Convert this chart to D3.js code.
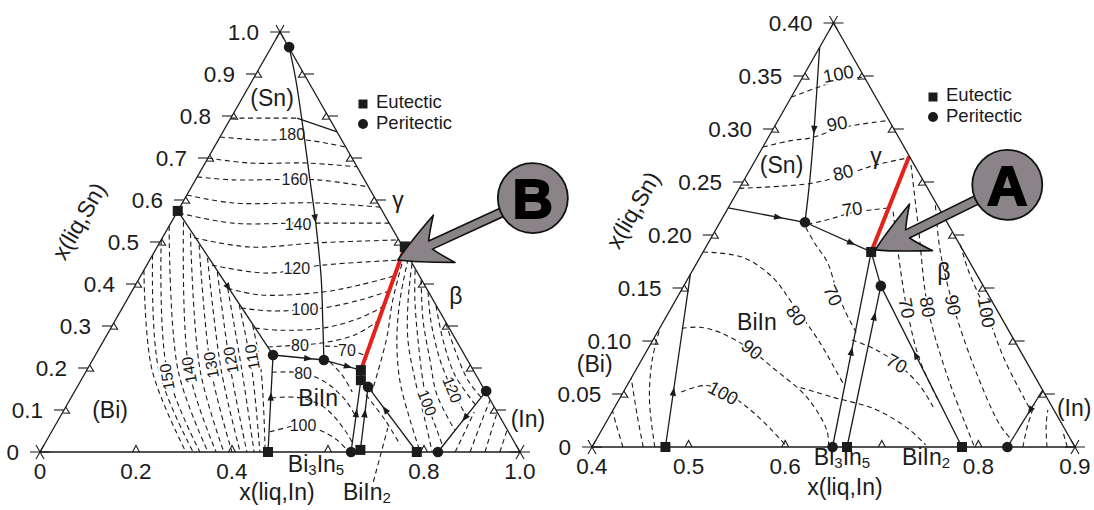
<!DOCTYPE html>
<html>
<head>
<meta charset="utf-8">
<script src="https://cdn.jsdelivr.net/npm/d3@7"></script>
<style>
  html, body { margin: 0; padding: 0; background: #fff; }
  svg { display: block; font-family: "Liberation Sans", Arial, Helvetica, sans-serif; }
</style>
</head>
<body>
<svg id="chart" width="1094" height="510"></svg>
<script>
// Bi-In-Sn liquidus projections. Every composition is [x(liq,In), x(liq,Sn)].

// ---------- full diagram ----------
const leftSnTicks  = [0, 0.1, 0.2, 0.3, 0.4, 0.5, 0.6, 0.7, 0.8, 0.9, 1];
const leftSnLabels = ["0", "0.1", "0.2", "0.3", "0.4", "0.5", "0.6", "0.7", "0.8", "0.9", "1.0"];
const leftInTicks  = [0.2, 0.4, 0.6, 0.8];
const leftInLabelAt = [0, 0.2, 0.4, 0.8, 1];
const leftInLabels  = ["0", "0.2", "0.4", "0.8", "1.0"];
const leftEdgeTicks = [0.1, 0.2, 0.3, 0.4, 0.5, 0.6, 0.7, 0.8, 0.9];

const leftEutectic   = [[0, 0.574], [0.516, 0.488], [0.571, 0.195], [0.583, 0.171], [0.475, 0], [0.665, 0.005], [0.785, 0]];
const leftPeritectic = [[0.037, 0.964], [0.370, 0.231], [0.482, 0.219], [0.606, 0.155], [0.648, 0], [0.829, 0], [0.857, 0.145]];

// monovariant (three-phase) lines
const leftValleys = [
  [[0.037, 0.964], [0.090, 0.886], [0.165, 0.767], [0.231, 0.660], [0.302, 0.545], [0.381, 0.410], [0.432, 0.314], [0.482, 0.219]],
  [[0, 0.574], [0.370, 0.231]],
  [[0.370, 0.231], [0.482, 0.219]],
  [[0.482, 0.219], [0.571, 0.195]],
  [[0.475, 0], [0.370, 0.231]],
  [[0.583, 0.171], [0.648, 0]],
  [[0.606, 0.155], [0.665, 0.005]],
  [[0.606, 0.155], [0.785, 0]],
  [[0.829, 0], [0.857, 0.145]],
  [[0.571, 0.195], [0.583, 0.171]],
  [[0.138, 0.795], [0.238, 0.762]],
  [[0.516, 0.488], [0.571, 0.195]]
];
// [line index, position along line, +1 toward end / -1 toward start]
const leftArrowSpecs = [[0, 0.55, 1], [1, 0.53, 1], [2, 0.69, 1], [3, 0.65, 1], [4, 0.57, 1], [5, 0.46, -1], [6, 0.42, -1], [7, 0.35, -1], [8, 0.56, -1]];
const leftRed = [[0.516, 0.488], [0.571, 0.195]];

// isotherms, (Sn) and gamma field, 190 down to 70 C
const leftSnIso = [
  [[0, 0.795], [0.138, 0.795]],
  [[0, 0.750], [0.087, 0.743], [0.181, 0.743], [0.274, 0.726]],
  [[0, 0.700], [0.093, 0.688], [0.212, 0.688], [0.321, 0.679]],
  [[0, 0.655], [0.078, 0.648], [0.253, 0.648], [0.369, 0.631]],
  [[0, 0.612], [0.106, 0.593], [0.281, 0.593], [0.417, 0.583]],
  [[0.005, 0.569], [0.130, 0.545], [0.263, 0.545], [0.455, 0.545]],
  [[0.066, 0.510], [0.194, 0.488], [0.328, 0.498], [0.495, 0.505]],
  [[0.136, 0.445], [0.260, 0.426], [0.367, 0.445], [0.521, 0.457]],
  [[0.196, 0.390], [0.271, 0.374], [0.399, 0.381], [0.468, 0.398], [0.528, 0.419]],
  [[0.247, 0.343], [0.311, 0.336], [0.418, 0.343], [0.486, 0.362], [0.535, 0.383]],
  [[0.300, 0.295], [0.355, 0.290], [0.442, 0.295], [0.507, 0.319], [0.543, 0.348]],
  [[0.350, 0.250], [0.414, 0.255], [0.460, 0.260], [0.517, 0.279], [0.548, 0.312]],
  [[0.468, 0.252], [0.500, 0.250], [0.565, 0.229]]
];
// (Bi) field
const leftBiIso = [
  [[0, 0.433], [0.136, 0.195], [0.304, 0]],
  [[0, 0.469], [0.150, 0.195], [0.319, 0]],
  [[0, 0.505], [0.167, 0.195], [0.333, 0]],
  [[0, 0.538], [0.190, 0.195], [0.350, 0]],
  [[0.025, 0.548], [0.213, 0.195], [0.367, 0]],
  [[0.053, 0.521], [0.236, 0.195], [0.383, 0]],
  [[0.085, 0.493], [0.259, 0.195], [0.400, 0]],
  [[0.118, 0.462], [0.280, 0.195], [0.417, 0]],
  [[0.155, 0.429], [0.300, 0.195], [0.431, 0]],
  [[0.196, 0.390], [0.323, 0.195], [0.446, 0]],
  [[0.240, 0.350], [0.344, 0.195], [0.458, 0]],
  [[0.292, 0.302], [0.363, 0.195], [0.469, 0]]
];
// BiIn and BiIn2 fields
const leftBiInIso = [
  [[0.497, 0.214], [0.538, 0.183], [0.579, 0.143]],
  [[0.388, 0.190], [0.454, 0.188], [0.510, 0.167], [0.574, 0.124], [0.612, 0.088]],
  [[0.417, 0.129], [0.477, 0.129], [0.541, 0.105], [0.609, 0.052], [0.638, 0.024]],
  [[0.455, 0.048], [0.491, 0.060], [0.516, 0.064], [0.557, 0.052], [0.604, 0.029], [0.637, 0.005]],
  [[0.611, 0.136], [0.681, 0.076], [0.742, 0.017]]
];
// beta field
const leftBetaIso = [
  [[0.525, 0.467], [0.554, 0.362], [0.588, 0.267], [0.620, 0.143]],
  [[0.537, 0.460], [0.569, 0.362], [0.610, 0.267], [0.664, 0.171], [0.733, 0.076], [0.792, 0]],
  [[0.551, 0.448], [0.586, 0.362], [0.633, 0.267], [0.696, 0.171], [0.764, 0.076], [0.817, 0]],
  [[0.565, 0.433], [0.600, 0.362], [0.654, 0.267], [0.712, 0.171], [0.748, 0.117], [0.801, 0.052], [0.832, 0.014]],
  [[0.589, 0.410], [0.641, 0.314], [0.703, 0.219], [0.759, 0.136], [0.838, 0.052]],
  [[0.618, 0.381], [0.657, 0.314], [0.724, 0.219], [0.785, 0.148], [0.845, 0.086]],
  [[0.651, 0.348], [0.706, 0.267], [0.773, 0.183], [0.849, 0.114]],
  [[0.692, 0.307], [0.743, 0.243], [0.806, 0.171], [0.853, 0.131]]
];
// (In) field
const leftInIso = [
  [[0.865, 0], [0.857, 0.095]],
  [[0.896, 0], [0.883, 0.076], [0.876, 0.124]],
  [[0.927, 0], [0.905, 0.095]],
  [[0.958, 0], [0.947, 0.052]]
];
const leftIsoLabels = [
  ["180", 0.146, 0.757], ["160", 0.206, 0.650], ["140", 0.266, 0.543], ["120", 0.316, 0.438],
  ["100", 0.382, 0.340], ["80", 0.414, 0.255], ["70", 0.518, 0.243],
  ["150", 0.175, 0.179], ["140", 0.213, 0.195], ["130", 0.253, 0.207], ["120", 0.288, 0.219], ["110", 0.329, 0.226],
  ["80", 0.454, 0.188], ["100", 0.516, 0.064],
  ["100", 0.748, 0.117], ["120", 0.785, 0.148]
];
const leftIsoAngles = [0, 0, 0, 0, 0, 0, 0, -100, -100, -100, -100, -100, 0, 0, 68, 68];
const leftFieldLabels = [["(Sn)", 0.062, 0.843], ["(Bi)", 0.096, 0.100], ["BiIn", 0.515, 0.129], ["\u03B3", 0.446, 0.600], ["\u03B2", 0.681, 0.371], ["(In)", 0.977, 0.079]];
const leftPhaseAt = [["Bi", "3", "In", "5", 0.575, 20], ["BiIn", "2", "", "", 0.681, 48]];
const leftLeader = [[0.730, -0.071], [0.696, 0.057]];
const leftBadgeTarget = [0.517, 0.457];

// ---------- In-rich corner ----------
const rightSnTicks  = [0, 0.05, 0.10, 0.15, 0.20, 0.25, 0.30, 0.35, 0.40];
const rightSnLabels = ["0", "0.05", "0.10", "0.15", "0.20", "0.25", "0.30", "0.35", "0.40"];
const rightInTicks  = [0.5, 0.6, 0.7, 0.8];
const rightInLabelAt = [0.4, 0.5, 0.6, 0.8, 0.9];
const rightInLabels  = ["0.4", "0.5", "0.6", "0.8", "0.9"];
const rightEdgeTicks = [0.05, 0.10, 0.15, 0.20, 0.25, 0.30, 0.35];

const rightEutectic   = [[0.574, 0.184], [0.476, 0], [0.664, 0], [0.783, 0]];
const rightPeritectic = [[0.488, 0.212], [0.604, 0.152], [0.649, 0], [0.830, 0]];
const rightValleys = [
  [[0.400, 0.377], [0.443, 0.299], [0.468, 0.252], [0.488, 0.212]],
  [[0.400, 0.2255], [0.488, 0.212]],
  [[0.488, 0.212], [0.574, 0.184]],
  [[0.476, 0], [0.400, 0.163]],
  [[0.574, 0.184], [0.649, 0]],
  [[0.604, 0.152], [0.664, 0]],
  [[0.604, 0.152], [0.783, 0]],
  [[0.830, 0], [0.833, 0.054]],
  [[0.574, 0.184], [0.604, 0.152]],
  [[0.574, 0.184], [0.557, 0.274]]
];
const rightArrowSpecs = [[0, 0.47, 1], [1, 0.65, 1], [2, 0.7, 1], [3, 0.32, 1], [4, 0.51, -1], [5, 0.19, -1], [6, 0.43, -1], [7, 0.64, -1]];
const rightRed = [[0.574, 0.184], [0.557, 0.274]];

const rightSnIso = [
  [[0.400, 0.330], [0.421, 0.339], [0.440, 0.346], [0.463, 0.349]],
  [[0.400, 0.283], [0.425, 0.289], [0.446, 0.292], [0.469, 0.301], [0.514, 0.308]],
  [[0.400, 0.244], [0.441, 0.246], [0.473, 0.249], [0.502, 0.257], [0.527, 0.266], [0.558, 0.273]],
  [[0.492, 0.210], [0.512, 0.215], [0.531, 0.221], [0.553, 0.224], [0.566, 0.2255]]
];
const rightBiIso = [
  [[0.432, 0], [0.412, 0.021], [0.400, 0.034]],
  [[0.453, 0], [0.428, 0.030], [0.400, 0.065]],
  [[0.465, 0], [0.432, 0.044], [0.411, 0.082], [0.401, 0.110]]
];
const rightBiInIso = [
  [[0.492, 0.207], [0.512, 0.191], [0.534, 0.175], [0.556, 0.153], [0.581, 0.129], [0.606, 0.108]],
  [[0.400, 0.184], [0.444, 0.179], [0.487, 0.160], [0.522, 0.136], [0.575, 0.098], [0.610, 0.070], [0.625, 0.058]],
  [[0.423, 0.112], [0.441, 0.113], [0.465, 0.108], [0.502, 0.094], [0.540, 0.075], [0.593, 0.047], [0.633, 0.016], [0.645, 0]],
  [[0.460, 0.052], [0.481, 0.058], [0.505, 0.052], [0.542, 0.035], [0.576, 0.016], [0.602, 0]],
  [[0.606, 0.101], [0.636, 0.092], [0.666, 0.079], [0.703, 0.058], [0.733, 0.035]],
  [[0.581, 0.056], [0.620, 0.047], [0.673, 0.035], [0.719, 0.016], [0.744, 0.002]]
];
const rightBetaIso = [
  [[0.573, 0.222], [0.608, 0.176], [0.644, 0.131], [0.688, 0.082], [0.731, 0.044]],
  [[0.564, 0.266], [0.610, 0.205], [0.665, 0.132], [0.720, 0.073], [0.779, 0.016], [0.796, 0]],
  [[0.613, 0.228], [0.644, 0.186], [0.690, 0.134], [0.751, 0.073], [0.809, 0.021], [0.830, 0.007]],
  [[0.662, 0.191], [0.685, 0.167], [0.729, 0.127], [0.776, 0.082], [0.832, 0.035]]
];
const rightInIso = [
  [[0.846, 0], [0.838, 0.021], [0.833, 0.040]],
  [[0.871, 0], [0.857, 0.021], [0.850, 0.035]],
  [[0.892, 0], [0.877, 0.016]]
];
const rightIsoLabels = [
  ["100", 0.435, 0.352], ["90", 0.463, 0.305], ["80", 0.498, 0.259], ["70", 0.529, 0.2245],
  ["70", 0.560, 0.143], ["80", 0.534, 0.124], ["90", 0.508, 0.092], ["100", 0.504, 0.051], ["70", 0.666, 0.079],
  ["70", 0.644, 0.131], ["80", 0.665, 0.132], ["90", 0.690, 0.134], ["100", 0.729, 0.127]
];
const rightIsoAngles = [-10, -10, -14, -8, 65, 55, 38, 28, 30, 80, 80, 80, 80];
const rightFieldLabels = [["(Sn)", 0.430, 0.266], ["BiIn", 0.497, 0.118], ["(Bi)", 0.354, 0.078], ["\u03B3", 0.522, 0.275], ["\u03B2", 0.661, 0.165], ["(In)", 0.876, 0.037]];
const rightPhaseAt = [["Bi", "3", "In", "5", 0.6588, 18], ["BiIn", "2", "", "", 0.7458, 18]];
const rightBadgeTarget = [0.577, 0.186];

// ---------- drawing ----------
const INK = "#1b1b1b";
const RED = "#e3221b";
const BADGE = "#8a8388";
const svg = d3.select("#chart");

function makeProj(cfg) {
  const u = d3.scaleLinear().domain([cfg.inMin, cfg.inMax]).range([0, cfg.W]);
  const s = d3.scaleLinear().domain([0, cfg.snMax]).range([0, 1]);
  return p => [cfg.x0 + u(p[0]) + 0.5 * cfg.W * s(p[1]), cfg.y0 - cfg.H * s(p[1])];
}

function halo(sel) {
  return sel.attr("stroke", "#fff").attr("stroke-width", 4).attr("stroke-linejoin", "round").attr("paint-order", "stroke");
}

function drawPanel(cfg, D) {
  const P = makeProj(cfg);
  const g = svg.append("g");
  const smooth = d3.line().x(p => P(p)[0]).y(p => P(p)[1]).curve(d3.curveCatmullRom.alpha(0.5));
  const straight = d3.line().x(p => P(p)[0]).y(p => P(p)[1]);

  // dashed isotherms
  const iso = g.append("g").attr("fill", "none").attr("stroke", INK)
    .attr("stroke-width", 1.1).attr("stroke-dasharray", "5,3.6");
  D.isotherms.forEach(set => set.forEach(pts => iso.append("path").attr("d", smooth(pts))));
  if (D.leader) iso.append("path").attr("d", straight(D.leader));

  // isotherm temperature labels
  D.isoLabels.forEach((l, i) => {
    const [x, y] = P([l[1], l[2]]);
    halo(g.append("text"))
      .attr("transform", `translate(${x},${y}) rotate(${D.isoAngles[i]})`)
      .attr("text-anchor", "middle").attr("dy", "0.35em")
      .attr("font-size", cfg.isoFont).attr("fill", INK).text(l[0]);
  });

  // monovariant lines
  const mono = g.append("g").attr("fill", "none").attr("stroke", INK).attr("stroke-width", 1.3);
  D.valleys.forEach(pts => mono.append("path").attr("d", smooth(pts)));

  // direction arrows on the monovariant lines
  D.arrows.forEach(([li, t, dir]) => {
    const pts = D.valleys[li].map(P);
    const seg = [];
    let total = 0;
    for (let k = 1; k < pts.length; k++) {
      const L = Math.hypot(pts[k][0] - pts[k - 1][0], pts[k][1] - pts[k - 1][1]);
      seg.push(L); total += L;
    }
    let want = t * total, k = 0;
    while (k < seg.length - 1 && want > seg[k]) { want -= seg[k]; k++; }
    const a = pts[k], b = pts[k + 1];
    const f = want / seg[k];
    const x = a[0] + (b[0] - a[0]) * f, y = a[1] + (b[1] - a[1]) * f;
    const ang = Math.atan2(b[1] - a[1], b[0] - a[0]) * 180 / Math.PI + (dir < 0 ? 180 : 0);
    g.append("path").attr("transform", `translate(${x},${y}) rotate(${ang})`)
      .attr("d", "M4.5,0 L-4,-3.2 L-4,3.2 Z").attr("fill", INK);
  });

  // highlighted boundary
  g.append("path").attr("d", straight(D.red)).attr("fill", "none")
    .attr("stroke", RED).attr("stroke-width", 4);

  // triangle frame
  const A = P([cfg.inMin, 0]), B = P([cfg.inMax, 0]), C = P([cfg.inMin, cfg.snMax]);
  g.append("path").attr("d", `M${A}L${B}L${C}Z`).attr("fill", "none")
    .attr("stroke", INK).attr("stroke-width", 1.3);

  const tick = g.append("g").attr("fill", "none").attr("stroke", INK).attr("stroke-width", 1.1);
  const c60 = 0.5, s60 = Math.sqrt(3) / 2;
  function chevron(p, t, n) {
    tick.append("path").attr("d",
      `M${p[0] - 3.5 * t[0]},${p[1] - 3.5 * t[1]}L${p[0] + 6.5 * n[0]},${p[1] + 6.5 * n[1]}L${p[0] + 3.5 * t[0]},${p[1] + 3.5 * t[1]}`);
  }
  D.snTicks.slice(1, -1).forEach(s => {
    const p = P([cfg.inMin, s]);
    chevron(p, [c60, -s60], [s60, c60]);
    tick.append("path").attr("d", `M${p[0]},${p[1]}h-10`);
  });
  D.inTicks.forEach(v => chevron(P([v, 0]), [1, 0], [0, -1]));
  D.edgeTicks.forEach(s => {
    const p = P([cfg.inMax - (cfg.inMax - cfg.inMin) * s / cfg.snMax, s]);
    chevron(p, [-c60, -s60], [-s60, c60]);
    tick.append("path").attr("d", `M${p[0]},${p[1]}h10`);
  });
  [A, B, C].forEach(p => {
    tick.append("path").attr("d",
      `M${p[0] - 10},${p[1]}h20M${p[0] - 8 * c60},${p[1] - 8 * s60}L${p[0] + 8 * c60},${p[1] + 8 * s60}` +
      `M${p[0] + 8 * c60},${p[1] - 8 * s60}L${p[0] - 8 * c60},${p[1] + 8 * s60}`);
  });

  // tick labels
  D.snTicks.forEach((s, i) => {
    const p = P([cfg.inMin, s]);
    g.append("text").attr("x", p[0] - 21).attr("y", p[1]).attr("dy", "0.36em")
      .attr("text-anchor", "end").attr("font-size", 22.5).attr("fill", INK).text(D.snLabels[i]);
  });
  D.inLabelAt.forEach((v, i) => {
    const p = P([v, 0]);
    g.append("text").attr("x", p[0]).attr("y", p[1] + 27)
      .attr("text-anchor", "middle").attr("font-size", 22.5).attr("fill", INK).text(D.inLabels[i]);
  });

  // axis titles
  g.append("text").attr("x", cfg.bottomTitle[0]).attr("y", cfg.bottomTitle[1])
    .attr("text-anchor", "middle").attr("font-size", 23).attr("fill", INK).text("x(liq,In)");
  g.append("text").attr("transform", `translate(${cfg.sideTitle[0]},${cfg.sideTitle[1]}) rotate(-60)`)
    .attr("text-anchor", "middle").attr("dy", "0.35em").attr("font-size", 23).attr("fill", INK).text("x(liq,Sn)");

  // intermetallic compositions under the In axis
  D.phases.forEach(ph => {
    const p = P([ph[4], 0]);
    const t = g.append("text").attr("x", p[0]).attr("y", p[1] + ph[5])
      .attr("text-anchor", "middle").attr("font-size", 23).attr("fill", INK);
    t.append("tspan").text(ph[0]);
    t.append("tspan").attr("font-size", 15).attr("dy", 3).text(ph[1]);
    if (ph[2]) {
      t.append("tspan").attr("dy", -3).text(ph[2]);
      t.append("tspan").attr("font-size", 15).attr("dy", 3).text(ph[3]);
    }
  });

  // primary phase fields
  D.fields.forEach(f => {
    const p = P([f[1], f[2]]);
    g.append("text").attr("x", p[0]).attr("y", p[1]).attr("dy", "0.35em")
      .attr("text-anchor", "middle").attr("font-size", 23).attr("fill", INK).text(f[0]);
  });

  // invariant points
  D.eutectic.forEach(e => {
    const p = P(e);
    g.append("rect").attr("x", p[0] - 5).attr("y", p[1] - 5).attr("width", 10).attr("height", 10).attr("fill", INK);
  });
  D.peritectic.forEach(e => {
    const p = P(e);
    g.append("circle").attr("cx", p[0]).attr("cy", p[1]).attr("r", 5.3).attr("fill", INK);
  });

  // legend
  const [lx, ly] = cfg.legend;
  g.append("rect").attr("x", lx - 4.5).attr("y", ly - 4.5).attr("width", 9).attr("height", 9).attr("fill", INK);
  g.append("circle").attr("cx", lx).attr("cy", ly + 20).attr("r", 5).attr("fill", INK);
  g.append("text").attr("x", lx + 13).attr("y", ly + 4).attr("font-size", 18.5).attr("fill", INK).text("Eutectic");
  g.append("text").attr("x", lx + 13).attr("y", ly + 25).attr("font-size", 18.5).attr("fill", INK).text("Peritectic");

  // callout badge
  const [tx, ty] = P(D.badgeTarget);
  const cx = tx + cfg.badgeOffset[0], cy = ty + cfg.badgeOffset[1];
  const ang = Math.atan2(ty - cy, tx - cx) * 180 / Math.PI;
  const len = Math.hypot(cx - tx, cy - ty);
  const bg = svg.append("g");
  bg.append("path").attr("transform", `translate(${tx},${ty}) rotate(${ang})`)
    .attr("d", `M0,0 Q-16,-10 -51,-26 Q-41,-13 -36,-4.5 L${-len},-4.5 L${-len},4.5 L-36,4.5 Q-41,13 -51,26 Q-16,10 0,0 Z`)
    .attr("fill", BADGE).attr("stroke", "#111").attr("stroke-width", 1.6).attr("stroke-linejoin", "round");
  bg.append("circle").attr("cx", cx).attr("cy", cy).attr("r", 35)
    .attr("fill", BADGE).attr("stroke", "#111").attr("stroke-width", 1.8);
  bg.append("text").attr("x", cx).attr("y", cy + 20).attr("text-anchor", "middle")
    .attr("font-size", 56).attr("font-weight", "bold").attr("fill", "#000")
    .attr("stroke", "#000").attr("stroke-width", 2).text(cfg.badgeLetter);
}

drawPanel(
  { inMin: 0, inMax: 1, snMax: 1, x0: 40, y0: 452, W: 480, H: 420, isoFont: 16,
    bottomTitle: [277, 500], sideTitle: [79, 221], legend: [363, 104],
    badgeOffset: [135, -62], badgeLetter: "B" },
  { snTicks: leftSnTicks, snLabels: leftSnLabels, inTicks: leftInTicks, inLabelAt: leftInLabelAt,
    inLabels: leftInLabels, edgeTicks: leftEdgeTicks, eutectic: leftEutectic, peritectic: leftPeritectic,
    valleys: leftValleys, arrows: leftArrowSpecs, red: leftRed,
    isotherms: [leftSnIso, leftBiIso, leftBiInIso, leftBetaIso, leftInIso], leader: leftLeader,
    isoLabels: leftIsoLabels, isoAngles: leftIsoAngles, fields: leftFieldLabels, phases: leftPhaseAt,
    badgeTarget: leftBadgeTarget }
);

drawPanel(
  { inMin: 0.4, inMax: 0.9, snMax: 0.4, x0: 592, y0: 447, W: 483, H: 424, isoFont: 18.5,
    bottomTitle: [845, 495], sideTitle: [633, 210], legend: [933, 97],
    badgeOffset: [132, -65], badgeLetter: "A" },
  { snTicks: rightSnTicks, snLabels: rightSnLabels, inTicks: rightInTicks, inLabelAt: rightInLabelAt,
    inLabels: rightInLabels, edgeTicks: rightEdgeTicks, eutectic: rightEutectic, peritectic: rightPeritectic,
    valleys: rightValleys, arrows: rightArrowSpecs, red: rightRed,
    isotherms: [rightSnIso, rightBiIso, rightBiInIso, rightBetaIso, rightInIso], leader: null,
    isoLabels: rightIsoLabels, isoAngles: rightIsoAngles, fields: rightFieldLabels, phases: rightPhaseAt,
    badgeTarget: rightBadgeTarget }
);
</script>
</body>
</html>
